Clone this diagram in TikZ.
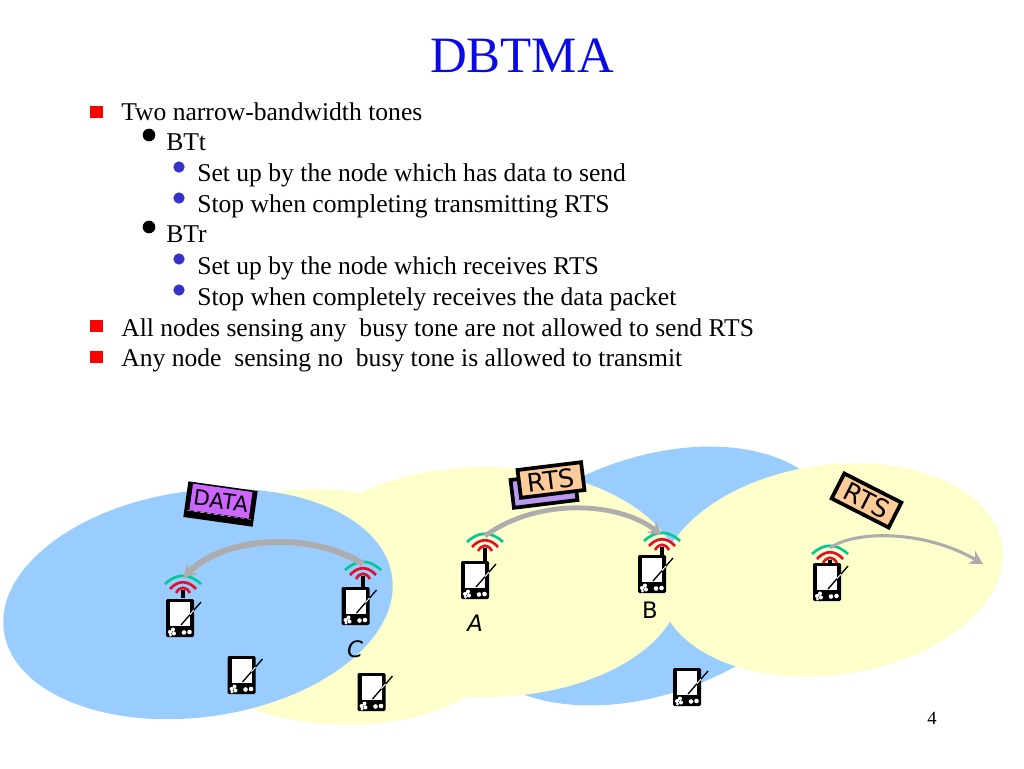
\documentclass[tikz,border=0pt]{standalone}
\usepackage{fontspec}
\setmainfont{Liberation Serif}
\newfontfamily\handfont{DejaVu Sans}
\usepackage{tikz}
\usetikzlibrary{arrows.meta}
\definecolor{zoneblue}{HTML}{99CCFF}
\definecolor{zoneyellow}{HTML}{FFFFCC}
\definecolor{flowgray}{HTML}{ADADAD}
\definecolor{pktpurple}{HTML}{CC66FF}
\definecolor{pktlilac}{HTML}{BB99F0}
\definecolor{pktorange}{HTML}{FFCC99}
\definecolor{wavegreen}{HTML}{00C896}
\definecolor{wavered}{HTML}{E0102A}
\definecolor{titleblue}{HTML}{0A0AE6}
\definecolor{subblue}{HTML}{3333CC}
\tikzset{line1/.style={anchor=base west,inner sep=0pt,font=\fontsize{19.2}{21}\selectfont},
         title/.style={anchor=base,inner sep=0pt,text=titleblue,font=\fontsize{38.2}{40}\selectfont},
         pagenum/.style={anchor=base,inner sep=0pt,font=\fontsize{14}{16}\selectfont},
         squarebullet/.style={rectangle,fill=red,minimum size=9.5pt,inner sep=0pt},
         roundbullet/.style={circle,fill=black,minimum size=9.5pt,inner sep=0pt},
         smallbullet/.style={circle,fill=subblue,minimum size=8.5pt,inner sep=0pt},
         hand/.style={inner sep=0pt,font=\handfont\fontsize{16}{17}\selectfont},
         label/.style={inner sep=0pt,font=\handfont\fontsize{17}{18}\selectfont},
         packet/.style={rectangle,draw=black,line width=2.8pt,minimum width=48pt,minimum height=21pt,inner sep=0pt,
                        font=\handfont\fontsize{19}{20}\selectfont},
         flow/.style={draw=flowgray,-{Stealth[length=10pt,width=11pt]}},
         pics/palm/.style={code={
           \fill[black,rounded corners=1pt] (-14,-19) rectangle (14,19);
           \fill[white] (-10,-16) rectangle (10,8);
           \draw[line width=1pt,black] (1,7) -- (21,-16);
           \draw[line width=.7pt,white] (10,-3.4) -- (14,-8);
           \fill[white] (-10,14) circle (2) (-7,11.5) circle (2) (-6,15.5) circle (2) (-9.5,17) circle (1.6)
                        (4,14.5) circle (2.3) (9.5,14) circle (2.3);
         }},
         pics/radio/.style={code={
           \coordinate (-top) at (0,0);
           \draw[line width=3.4pt,black] (0,12) -- (0,#1);
           \draw[line width=2pt,wavegreen] (-18,6) .. controls (-6,-5) and (6,-5) .. (18,6);
           \draw[line width=2pt,wavered] (-13,11) .. controls (-5,2) and (5,2) .. (13,11);
           \draw[line width=2pt,wavered] (-7,15) .. controls (-3,8) and (3,8) .. (7,15);
         }}}
\begin{document}
\begin{tikzpicture}[x=0.75pt,y=-0.75pt]
    \useasboundingbox (0,0) rectangle (1024,768);
    % Coverage areas
    \fill[zoneblue,rotate around={20:(650,576)}] (650,576) ellipse (195 and 118);
    \fill[zoneyellow,rotate around={-5:(332,607)}] (332,607) ellipse (190 and 117);
    \fill[zoneyellow] (485,582) ellipse (197 and 115);
    \fill[zoneyellow,rotate around={8:(831,570)}] (831,570) ellipse (173 and 105);
    \fill[zoneblue,rotate around={8:(198,604)}] (198,604) ellipse (196 and 113);
    % Title and text
    \node (head) at (522,72) [title]{DBTMA};
    \node (sq1) at (96.5,112) [squarebullet]{};
    \node (t1) at (121,120) [line1]{Two narrow-bandwidth tones};
    \node (rd1) at (149,135) [roundbullet]{};
    \node (t2) at (166,150) [line1]{BTt};
    \node (sm1) at (179,167) [smallbullet]{};
    \node (t3) at (197,181) [line1]{Set up by the node which has data to send};
    \node (sm2) at (179,198) [smallbullet]{};
    \node (t4) at (197,212) [line1]{Stop when completing transmitting RTS};
    \node (rd2) at (149,227) [roundbullet]{};
    \node (t5) at (166,242) [line1]{BTr};
    \node (sm3) at (179,259) [smallbullet]{};
    \node (t6) at (197,274) [line1]{Set up by the node which receives RTS};
    \node (sm4) at (179,290) [smallbullet]{};
    \node (t7) at (197,305) [line1]{Stop when completely receives the data packet};
    \node (sq2) at (96.5,326) [squarebullet]{};
    \node (t8) at (121,336) [line1]{All nodes sensing any\ \ busy tone are not allowed to send RTS};
    \node (sq3) at (96.5,357) [squarebullet]{};
    \node (t9) at (121,366) [line1]{Any node\ \ sensing no\ \ busy tone is allowed to transmit};
    \node (page) at (932,724) [pagenum]{4};
    % Devices
    \pic (dev1) at (180,618) {palm};
    \pic (devC) at (355.5,606) {palm};
    \pic (dev3) at (241.5,675) {palm};
    \pic (dev4) at (371.5,692) {palm};
    \pic (devA) at (475,580) {palm};
    \pic (devB) at (652,574) {palm};
    \pic (dev5) at (687,687) {palm};
    \pic (dev6) at (827,582) {palm};
    % Radios
    \pic (rad1) at (183,578) {radio=20};
    \pic (radC) at (363,564) {radio=23};
    \pic (radA) at (485,536) {radio=25};
    \pic (radB) at (662,535) {radio=21};
    \pic (rad6) at (830,548) {radio=16};
    % Labels
    \node (lblA) at (475,623) [label]{\itshape A};
    \node (lblB) at (650,610) [label]{B};
    \node (lblC) at (355,649) [label]{\itshape C};
    % Packets
    \begin{scope}[shift={(220.5,504)},rotate=-8,transform shape]
      \fill[black] (-35,-18) rectangle (35,18);
      \node (pktData) at (0,-3) [rectangle,fill=pktpurple,minimum width=45pt,minimum height=20pt,inner sep=0pt,hand]{DATA};
      \draw[white,densely dashed,line width=.3pt] (-32,11) -- (32,11);
    \end{scope}
    \node (pktBack) at (544,490) [packet,fill=pktlilac,rotate=7]{};
    \node (pktRts) at (551,480) [packet,fill=pktorange,rotate=7]{RTS};
    \node (pktRight) at (866.5,500.5) [packet,fill=pktorange,rotate=-27]{RTS};
    % Transmissions
    \coordinate (air) at (983,564);
    \draw[flow,line width=4.5pt] (radC-top) .. controls +(-50,-32) and +(43,-43) .. (rad1-top);
    \draw[flow,line width=3.6pt] (radA-top) .. controls +(48,-36) and +(-48,-36) .. (radB-top);
    \draw[flow,line width=2.3pt] (rad6-top) .. controls +(25,-18) and +(-58,-34) .. (air);
  \end{tikzpicture}
\end{document}
